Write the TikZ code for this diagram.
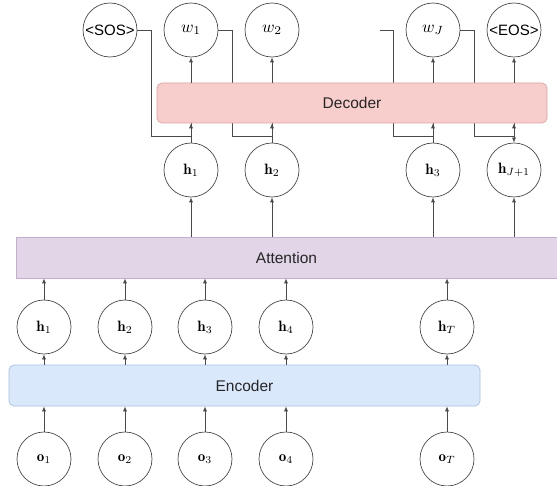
\documentclass[tikz,border=0pt]{standalone}
\usepackage{fontspec}
\newfontfamily\boxfont{Liberation Sans}
\usepackage{tikz}
\usetikzlibrary{arrows.meta}
\usetikzlibrary{calc}
\usetikzlibrary{backgrounds}
\usepackage{xcolor}
\definecolor{linegray}{HTML}{4A4A4A}
\definecolor{decfill}{HTML}{F8CECC}
\definecolor{decline}{HTML}{DDA3A1}
\definecolor{attfill}{HTML}{E1D5E7}
\definecolor{attline}{HTML}{C4ADD1}
\definecolor{encfill}{HTML}{DAE8FC}
\definecolor{encline}{HTML}{A7C0E2}
\newcommand{\vlab}[1]{\scalebox{1.5}{$#1$}}
\newcommand{\wlab}[1]{\scalebox{1.7}{$#1$}}
\tikzstyle{arrow} = [line width=0.7pt,draw=linegray,-{Latex[length=5pt,width=4pt]}]
\tikzstyle{dblarrow} = [line width=0.7pt,draw=linegray,{Latex[length=5pt,width=4pt]}-{Latex[length=5pt,width=4pt]}]
\tikzstyle{feed} = [line width=0.7pt,draw=linegray]
\tikzstyle{state} = [circle,draw=linegray,line width=0.7pt,fill=white,minimum size=54pt,inner sep=0pt]
\tikzstyle{token} = [state,font=\boxfont\fontsize{15}{17}\selectfont]
\tikzstyle{block} = [draw,line width=0.7pt,minimum height=41pt,inner sep=0pt,text=black!85,font=\boxfont\fontsize{15.5}{18}\selectfont]

\begin{document}
\begin{tikzpicture}[x=1pt,y=-1pt]
\useasboundingbox (0,0) rectangle (557,486);

\node[block,fill=encfill,draw=encline,rounded corners=5pt,minimum width=471pt] (enc) at (244.5,385.5) {Encoder};
\node[block,fill=attfill,draw=attline,minimum width=541pt] (att) at (286.5,257.5) {Attention};
\node[block,fill=decfill,draw=decline,rounded corners=5pt,minimum width=390pt,minimum height=40pt] (dec) at (352,103) {Decoder};

\foreach \i/\x/\s in {1/44/1,2/125/2,3/205/3,4/286/4,5/447/T}{
	\node[state] (o\i) at (\x,459) {\vlab{\mathbf{o}_{\s}}};
	\node[state] (h\i) at (\x,327) {\vlab{\mathbf{h}_{\s}}};
	\draw[arrow] (o\i) -- (o\i |- enc.south);
	\draw[arrow] (h\i |- enc.north) -- (h\i);
	\draw[arrow] (h\i) -- (h\i |- att.south);
}

\foreach \i/\x/\s in {1/191/1,2/272/2,3/433/3,4/514/{J+1}}{
	\node[state] (d\i) at (\x,170) {\vlab{\mathbf{h}_{\s}}};
	\draw[arrow] (d\i |- att.north) -- (d\i);
}
\draw[arrow] (d1) -- (d1 |- dec.south);
\draw[arrow] (d2) -- (d2 |- dec.south);
\draw[arrow] (d3) -- (d3 |- dec.south);
\draw[dblarrow] (d4) -- (d4 |- dec.south);

\node[token] (sos) at (110,30) {<SOS>};
\node[state] (w1) at (191,30) {\wlab{w_1}};
\node[state] (w2) at (272,30) {\wlab{w_2}};
\node[state] (wJ) at (433,30) {\wlab{w_J}};
\node[token] (eos) at (514,30) {<EOS>};
\coordinate (wprev) at (380,30);

\foreach \n in {w1,w2,wJ,eos}{
	\draw[arrow] (\n |- dec.north) -- (\n);
}

\begin{scope}[on background layer]
\fill[white] (0,0) rectangle (557,486);
\draw[feed] (sos.east) -- ++(14,0) |- ([yshift=6pt]d1.north) -- (d1.north |- dec.south);
\draw[feed] (w1.east) -- ++(14,0) |- ([yshift=6pt]d2.north) -- (d2.north |- dec.south);
\draw[feed] (wprev) -- ++(13,0) |- ([yshift=6pt]d3.north) -- (d3.north |- dec.south);
\draw[feed] (wJ.east) -- ++(14,0) |- ([yshift=6pt]d4.north) -- (d4.north |- dec.south);
\end{scope}
\end{tikzpicture}
\end{document}
